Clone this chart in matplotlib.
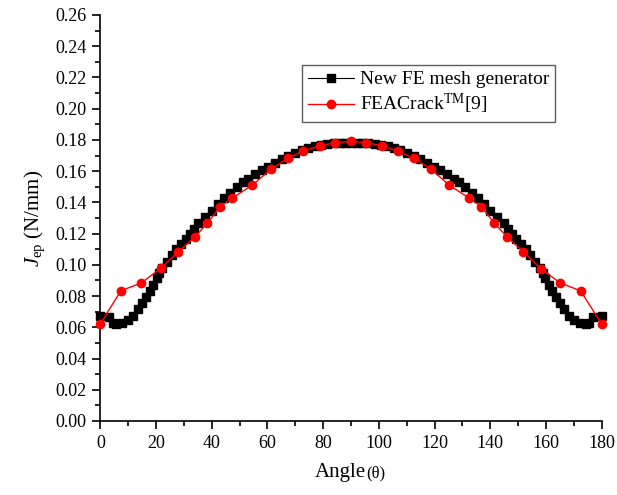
import matplotlib
matplotlib.use("Agg")
import matplotlib.pyplot as plt
from matplotlib.ticker import MultipleLocator, FormatStrFormatter

plt.rcParams["font.family"] = ["Liberation Serif", "DejaVu Serif"]
plt.rcParams["mathtext.fontset"] = "custom"
plt.rcParams["mathtext.rm"] = "Liberation Serif"
plt.rcParams["mathtext.it"] = "Liberation Serif:italic"

# New FE mesh generator (black squares)
mesh_angle = [
    0.0, 3.2, 4.6, 5.8, 7.9, 9.8, 11.6, 13.4, 14.9, 16.4,
    17.8, 18.8, 20.2, 21.2, 22.3, 23.8, 25.6, 27.2, 28.9, 30.6,
    32.2, 33.7, 35.1, 37.6, 40.0, 42.1, 44.5, 46.6, 49.0, 51.3,
    53.1, 55.5, 57.9, 60.1, 62.7, 65.3, 67.5, 69.9, 72.3, 74.6,
    76.9, 79.2, 81.5, 83.8, 86.1, 88.0, 90.0,
    92.0, 93.9, 96.2, 98.5, 100.8, 103.1, 105.4, 107.7, 110.1, 112.5,
    114.7, 117.3, 119.9, 122.1, 124.5, 126.9, 128.7, 131.0, 133.4, 135.5,
    137.9, 140.0, 142.4, 144.9, 146.3, 147.8, 149.4, 151.1, 152.8, 154.4,
    156.2, 157.7, 158.8, 159.8, 161.2, 162.2, 163.6, 165.1, 166.6, 168.4,
    170.2, 172.1, 174.2, 175.4, 176.8, 180.0,
]
mesh_j = [
    0.0672, 0.0664, 0.0630, 0.0622, 0.0625, 0.0645, 0.0675, 0.0715, 0.0754, 0.0796,
    0.0834, 0.0872, 0.0915, 0.0948, 0.0980, 0.1020, 0.1065, 0.1100, 0.1134, 0.1166,
    0.1198, 0.1232, 0.1266, 0.1304, 0.1348, 0.1388, 0.1426, 0.1460, 0.1497, 0.1530,
    0.1552, 0.1582, 0.1606, 0.1628, 0.1652, 0.1678, 0.1696, 0.1714, 0.1734, 0.1748,
    0.1760, 0.1769, 0.1776, 0.1780, 0.1782, 0.1783, 0.1783,
    0.1783, 0.1782, 0.1780, 0.1776, 0.1769, 0.1760, 0.1748, 0.1734, 0.1714, 0.1696,
    0.1678, 0.1652, 0.1628, 0.1606, 0.1582, 0.1552, 0.1530, 0.1497, 0.1460, 0.1426,
    0.1388, 0.1348, 0.1304, 0.1266, 0.1232, 0.1198, 0.1166, 0.1134, 0.1100, 0.1065,
    0.1020, 0.0980, 0.0948, 0.0915, 0.0872, 0.0834, 0.0796, 0.0754, 0.0715, 0.0675,
    0.0645, 0.0625, 0.0622, 0.0630, 0.0664, 0.0672,
]

# FEACrack reference (red circles)
fea_angle = [
    0.0, 7.4, 14.7, 21.7, 28.0, 34.0, 38.4, 43.0, 47.4, 54.6,
    61.2, 67.3, 72.9, 78.8, 84.4, 90.0, 95.5, 101.0, 106.7, 112.6,
    118.7, 125.2, 132.4, 136.8, 141.4, 146.0, 151.9, 158.2, 165.1, 172.4,
    180.0,
]
fea_j = [
    0.0622, 0.0834, 0.0884, 0.0978, 0.1084, 0.1180, 0.1266, 0.1372, 0.1428, 0.1511,
    0.1612, 0.1682, 0.1729, 0.1763, 0.1782, 0.1791, 0.1782, 0.1763, 0.1729, 0.1682,
    0.1614, 0.1511, 0.1428, 0.1372, 0.1268, 0.1180, 0.1084, 0.0975, 0.0884, 0.0834,
    0.0621,
]

fig = plt.figure(figsize=(6.17, 4.95), dpi=100)
ax = fig.add_axes([0.1626, 0.1495, 0.8126, 0.8202])

ax.plot(mesh_angle, mesh_j, color="black", marker="s", markersize=5.5,
        linewidth=0.8, label="New FE mesh generator", clip_on=False, zorder=3)
ax.plot(fea_angle, fea_j, color="red", marker="o", markersize=6,
        linewidth=1.0, label=r"FEACrack$^{\mathrm{TM}}$[9]", clip_on=False, zorder=4)

ax.set_xlim(0, 180)
ax.set_ylim(0, 0.26)
ax.xaxis.set_major_locator(MultipleLocator(20))
ax.xaxis.set_minor_locator(MultipleLocator(10))
ax.yaxis.set_major_locator(MultipleLocator(0.02))
ax.yaxis.set_minor_locator(MultipleLocator(0.01))
ax.yaxis.set_major_formatter(FormatStrFormatter("%.2f"))

for side in ("top", "right"):
    ax.spines[side].set_visible(False)
for side in ("left", "bottom"):
    ax.spines[side].set_linewidth(1.2)

ax.tick_params(which="major", direction="out", length=6, width=1.2,
               labelsize=13, pad=4)
ax.tick_params(which="minor", direction="out", length=3.5, width=1.2)

# x label: "Angle" followed by a smaller "(θ)"
xlab = ax.set_xlabel("Angle", fontsize=15)
ax.xaxis.set_label_coords(0.478, -0.103)
ax.annotate("(θ)", xy=(1, 0), xycoords=xlab, xytext=(0.3, 0.5),
            textcoords="offset points", ha="left", va="bottom", fontsize=12)

ax.set_ylabel(r"$\mathit{J}_{\mathrm{ep}}$ (N/mm)", fontsize=15, labelpad=6)

leg = ax.legend(loc="upper left", bbox_to_anchor=(0.402, 0.877),
                borderaxespad=0, fontsize=14, frameon=True, fancybox=False,
                handlelength=2.4, handletextpad=0.3, borderpad=0.3,
                labelspacing=0.2)
leg.get_frame().set_edgecolor("#333333")
leg.get_frame().set_linewidth(1.0)

fig.savefig("out.png", dpi=100)
